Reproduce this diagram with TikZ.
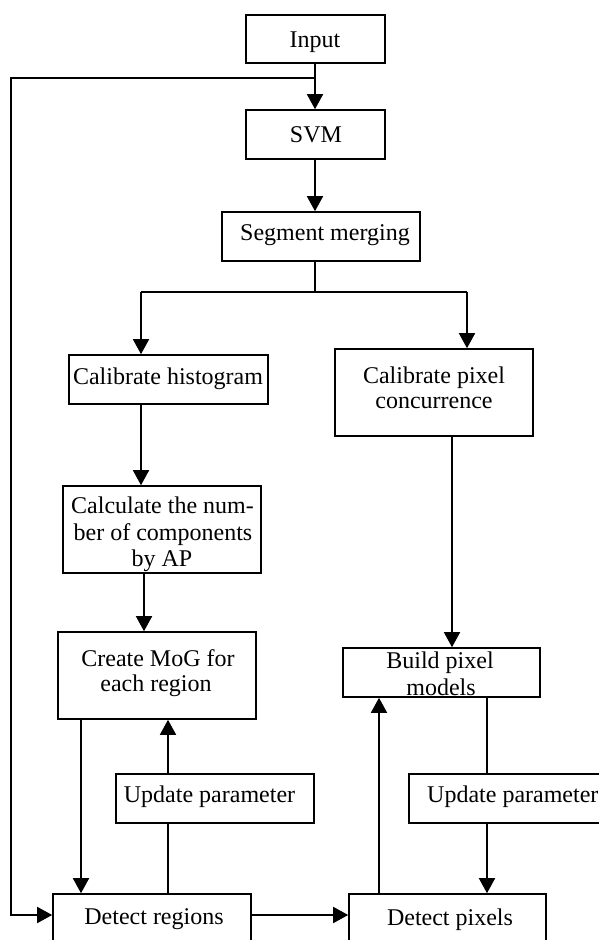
\documentclass[tikz,border=0pt]{standalone}
\usepackage{fontspec}
\setmainfont{Liberation Serif}
\usetikzlibrary{arrows.meta}
\begin{document}
\begin{tikzpicture}[x=1pt,y=-1pt,
  box/.style={draw,line width=1.6pt,inner sep=0pt},
  txt/.style={inner sep=0pt,anchor=base,font=\fontsize{24}{27}\selectfont},
  ln/.style={line width=1.6pt},
  arr/.style={line width=1.6pt,-{Triangle[length=15pt,width=16pt]}}]
\clip (0,0) rectangle (599,940);
\fill[white] (0,0) rectangle (599,940);
% boxes
\node[box,minimum width=139pt,minimum height=48pt] (input) at (315.5,39) {};
\node[box,minimum width=139pt,minimum height=49pt] (svm) at (315.5,134.5) {};
\node[box,minimum width=198pt,minimum height=49pt] (seg) at (321,236.5) {};
\node[box,minimum width=199pt,minimum height=49pt] (calhist) at (168.5,379.5) {};
\node[box,minimum width=198pt,minimum height=87pt] (calpix) at (434,392.5) {};
\node[box,minimum width=198pt,minimum height=87pt] (calc) at (162,529.5) {};
\node[box,minimum width=198pt,minimum height=87pt] (create) at (157,675.5) {};
\node[box,minimum width=197pt,minimum height=49pt] (build) at (441.5,672.5) {};
\node[box,minimum width=198pt,minimum height=49pt] (updl) at (215,798.5) {};
\node[box,minimum width=194pt,minimum height=49pt] (updr) at (506,798.5) {};
\node[box,minimum width=198pt,minimum height=49pt] (detr) at (152,918.5) {};
\node[box,minimum width=197pt,minimum height=49pt] (detp) at (447.5,918.5) {};
% texts
\node[txt] (t1) at (315,47) {Input};
\node[txt] (t2) at (316,142) {SVM};
\node[txt] (t3) at (325,240) {Segment merging};
\node[txt] (t4) at (168,384) {Calibrate histogram};
\node[txt] (t5a) at (434,383) {Calibrate pixel};
\node[txt] (t5b) at (434,408) {concurrence};
\node[txt] (t6a) at (162.5,513) {Calculate the num-};
\node[txt] (t6b) at (163,540) {ber of components};
\node[txt] (t6c) at (162,566) {by AP};
\node[txt] (t7a) at (158,666) {Create MoG for};
\node[txt] (t7b) at (156,691) {each region};
\node[txt] (t8a) at (440,668) {Build pixel};
\node[txt] (t8b) at (441,695) {models};
\node[txt] (t9) at (209.5,802) {Update parameter};
\node[txt,anchor=base west] (t10) at (427,802) {Update parameter};
\node[txt] (t11) at (154,924) {Detect regions};
\node[txt] (t12) at (450,925) {Detect pixels};
% column coordinates
\coordinate (lp) at (11,78);
\coordinate (sl) at (141,292);
\coordinate (sr) at (467,292);
\coordinate (c315) at (315,0);
\coordinate (c144) at (144,0);
\coordinate (c452) at (452,0);
\coordinate (c81) at (81,0);
\coordinate (c168) at (168,0);
\coordinate (c379) at (379,0);
\coordinate (c487) at (487,0);
\coordinate (r915) at (0,915);
% connectors
\draw[arr] (c315 |- input.south) -- (c315 |- svm.north);
\draw[arr] (lp -| c315) -- (lp) -- (lp |- r915) -- (detr.west |- r915);
\draw[arr] (c315 |- svm.south) -- (c315 |- seg.north);
\draw[ln] (c315 |- seg.south) -- (c315 |- sl);
\draw[ln] (sl) -- (sr);
\draw[arr] (sl) -- (sl |- calhist.north);
\draw[arr] (sr) -- (sr |- calpix.north);
\draw[arr] (sl |- calhist.south) -- (sl |- calc.north);
\draw[arr] (c144 |- calc.south) -- (c144 |- create.north);
\draw[arr] (c452 |- calpix.south) -- (c452 |- build.north);
\draw[arr] (c81 |- create.south) -- (c81 |- detr.north);
\draw[ln] (c168 |- detr.north) -- (c168 |- updl.south);
\draw[arr] (c168 |- updl.north) -- (c168 |- create.south);
\draw[arr] (c379 |- detp.north) -- (c379 |- build.south);
\draw[ln] (c487 |- build.south) -- (c487 |- updr.north);
\draw[arr] (c487 |- updr.south) -- (c487 |- detp.north);
\draw[arr] (detr.east |- r915) -- (detp.west |- r915);
\end{tikzpicture}
\end{document}
